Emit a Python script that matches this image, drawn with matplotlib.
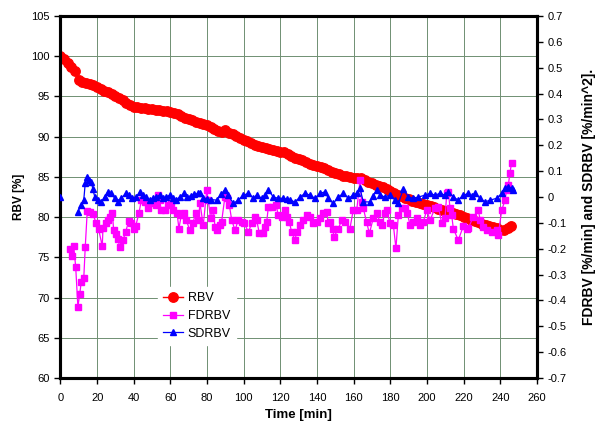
import matplotlib
matplotlib.use("Agg")
import matplotlib.pyplot as plt
import numpy as np

plt.rcParams['font.family'] = ['Liberation Sans', 'DejaVu Sans']

# ---- data ----
rbv_time = list(range(0, 248, 2))
rbv = [100.0, 99.6, 99.1, 98.7, 98.2, 97.0, 96.85, 96.7, 96.6, 96.45,
       96.2, 95.95, 95.65, 95.5, 95.35, 95.05, 94.75, 94.5, 94.2, 93.9,
       93.7, 93.65, 93.6, 93.55, 93.45, 93.4, 93.35, 93.3, 93.25, 93.2,
       93.1, 92.95, 92.8, 92.6, 92.35, 92.15, 92.05, 91.85, 91.65, 91.6,
       91.5, 91.2, 90.95, 90.7, 90.6, 90.8, 90.5, 90.3, 90.1, 89.85,
       89.6, 89.4, 89.2, 89.0, 88.85, 88.7, 88.6, 88.5, 88.4, 88.25,
       88.15, 88.05, 87.8, 87.6, 87.4, 87.2, 87.05, 86.85, 86.6, 86.45,
       86.35, 86.25, 86.1, 85.9, 85.65, 85.45, 85.3, 85.15, 85.05, 84.95,
       84.8, 84.9, 84.8, 84.6, 84.35, 84.2, 84.0, 83.9, 83.75, 83.45,
       83.2, 83.0, 82.8, 82.6, 82.35, 82.2, 82.05, 81.9, 81.8, 81.6,
       81.5, 81.35, 81.2, 81.05, 80.9, 80.75, 80.6, 80.5, 80.4, 80.3,
       80.05, 79.85, 79.7, 79.5, 79.35, 79.2, 79.0, 78.85, 78.75, 78.6,
       78.45, 78.4, 78.6, 78.9]

fd_time = [5.0, 6.3, 7.2, 8.3, 9.5, 10.5, 11.3, 12.7, 13.5, 14.6,
           16.3, 17.7, 19.5, 20.8, 22.8, 23.2, 24.7, 25.9, 27.2, 28.3,
           29.0, 30.1, 31.4, 32.3, 34.1, 35.6, 37.2, 38.6, 39.9, 41.0,
           42.8, 44.1, 45.9, 47.7, 48.7, 50.5, 51.9, 53.2, 54.1, 55.0,
           56.8, 58.6, 60.4, 61.4, 63.6, 64.6, 65.9, 67.4, 68.6, 70.5,
           72.3, 73.8, 75.2, 76.1, 77.9, 79.8, 80.6, 81.9, 83.4, 84.3,
           85.2, 87.0, 87.9, 89.7, 90.7, 92.1, 93.4, 95.2, 97.0, 98.9,
           100.1, 102.5, 104.3, 106.1, 107.0, 108.5, 110.3, 111.6, 112.5, 113.4,
           115.2, 117.6, 118.8, 120.7, 122.5, 123.4, 124.8, 126.1, 127.9, 128.9,
           130.7, 132.5, 134.6, 136.1, 137.9, 139.8, 141.6, 143.4, 145.2, 146.1,
           147.0, 148.5, 149.2, 151.6, 153.4, 155.2, 157.9, 159.7, 161.6, 163.4,
           164.3, 165.2, 167.0, 168.5, 170.6, 172.5, 174.3, 175.2, 177.0, 178.0,
           179.8, 181.6, 183.0, 184.3, 186.1, 187.9, 189.2, 190.7, 192.5, 194.3,
           196.1, 197.9, 199.8, 201.6, 204.3, 206.1, 208.0, 209.8, 210.7, 211.6,
           212.5, 213.4, 214.3, 217.0, 219.8, 221.6, 222.5, 225.2, 227.9, 229.0,
           230.7, 232.5, 235.2, 238.0, 238.8, 240.7, 242.5, 243.4, 244.3, 245.2,
           246.1]
fdrbv = [-0.20, -0.23, -0.19, -0.27, -0.425, -0.375, -0.33, -0.315, -0.195, -0.055,
         -0.057, -0.067, -0.10, -0.125, -0.19, -0.118, -0.102, -0.089, -0.077, -0.063,
         -0.128, -0.144, -0.164, -0.193, -0.167, -0.135, -0.092, -0.102, -0.122, -0.113,
         -0.063, -0.012, -0.019, -0.044, -0.025, -0.019, -0.031, 0.007, -0.012, -0.051,
         -0.051, -0.031, -0.025, -0.051, -0.063, -0.122, -0.070, -0.063, -0.089, -0.128,
         -0.10, -0.06, -0.089, -0.025, -0.109, 0.027, -0.012, -0.083, -0.051, -0.115,
         -0.128, -0.11, -0.096, 0.001, -0.005, -0.031, -0.089, -0.128, -0.089, -0.096,
         -0.100, -0.135, -0.102, -0.077, -0.089, -0.141, -0.141, -0.115, -0.096, -0.038,
         -0.038, -0.031, -0.070, -0.077, -0.051, -0.077, -0.096, -0.135, -0.167, -0.135,
         -0.109, -0.089, -0.070, -0.077, -0.102, -0.096, -0.083, -0.063, -0.057, -0.102,
         -0.096, -0.122, -0.154, -0.122, -0.089, -0.096, -0.122, -0.051, -0.051, 0.065,
         -0.019, -0.044, -0.096, -0.141, -0.083, -0.063, -0.096, -0.109, -0.063, -0.051,
         -0.102, -0.109, -0.199, -0.070, -0.044, -0.044, -0.063, -0.109, -0.096, -0.083,
         -0.109, -0.096, -0.051, -0.089, -0.044, -0.038, -0.102, -0.08, 0.014, 0.02,
         -0.044, -0.07, -0.122, -0.167, -0.112, -0.122, -0.12, -0.077, -0.051, -0.09,
         -0.115, -0.128, -0.135, -0.128, -0.147, -0.051, -0.012, 0.027, 0.046, 0.094,
         0.132]

# first SDRBV sample stands alone (gap before the next samples)
sd_time = [0.0, 5.0, 9.5, 11.3, 12.7, 13.5, 14.6, 15.5, 16.8, 17.7, 18.7,
           20.5, 22.3, 24.1, 25.9, 27.7, 29.6, 31.4, 33.2, 35.6, 37.4,
           39.2, 41.4, 43.5, 45.0, 46.8, 48.7, 50.5, 52.3, 54.1, 55.9,
           57.7, 59.6, 61.4, 63.2, 65.0, 67.4, 69.2, 71.0, 73.0, 75.2,
           76.1, 78.0, 80.0, 82.0, 85.2, 87.5, 89.7, 91.5, 94.3, 97.0,
           99.7, 102.5, 105.2, 107.0, 109.8, 111.6, 113.4, 116.1, 118.8, 121.6,
           123.4, 125.2, 127.9, 130.7, 133.4, 136.1, 138.8, 141.6, 144.3, 146.1,
           148.8, 151.6, 154.3, 157.0, 159.7, 161.6, 163.4, 165.2, 168.8, 170.6,
           172.5, 174.3, 177.0, 179.8, 182.5, 184.3, 187.0, 189.8, 192.5, 195.2,
           198.9, 201.6, 204.3, 207.0, 209.8, 211.6, 214.3, 217.0, 219.8, 222.5,
           224.3, 226.1, 228.9, 231.6, 234.4, 238.0, 240.7, 242.5, 244.3, 246.1,
           247.0]
sdrbv = [0.0, np.nan, -0.057, -0.031, -0.012, 0.053, 0.078, 0.065, 0.059, 0.029, 0.001,
         -0.012, -0.019, 0.001, 0.02, 0.014, -0.005, -0.019, -0.005, 0.014, 0.007,
         -0.005, 0.001, 0.02, 0.007, 0.0, -0.012, -0.005, 0.0, 0.007, -0.005,
         0.0, 0.007, -0.005, -0.012, 0.0, 0.014, 0.0, 0.005, 0.01, 0.014,
         0.014, -0.005, -0.008, -0.01, -0.012, 0.01, 0.027, 0.007, -0.025, -0.012,
         0.007, 0.014, -0.005, 0.007, -0.005, 0.007, 0.027, 0.0, -0.005, -0.005,
         -0.008, -0.012, -0.019, 0.0, 0.014, 0.007, -0.005, 0.014, 0.02, -0.005,
         -0.025, 0.0, 0.014, -0.005, 0.007, 0.015, 0.033, -0.019, -0.019, 0.005,
         0.027, 0.007, 0.0, 0.007, -0.012, -0.025, 0.03, 0.0, -0.005, 0.0,
         0.007, 0.014, 0.007, 0.014, 0.007, 0.02, 0.0, -0.012, 0.007, 0.014,
         0.004, 0.014, -0.005, -0.019, -0.012, -0.005, 0.014, 0.033, 0.04, 0.033,
         0.027]

x_ticks = list(range(0, 261, 20))
left_ticks = list(range(60, 106, 5))
right_ticks = [round(-0.7 + 0.1 * i, 1) for i in range(15)]

# ---- figure ----
fig = plt.figure(figsize=(6.06, 4.29), dpi=100)
ax = fig.add_axes([0.0998, 0.1189, 0.7865, 0.8438])
ax2 = ax.twinx()

ax.plot(rbv_time, rbv, color='#FF0000', marker='o', markersize=6.8,
        linewidth=1, label='RBV', zorder=3)
ax2.plot(fd_time, fdrbv, color='#FF00FF', marker='s', markersize=4.0,
         linewidth=0.9, label='FDRBV', zorder=3)
ax2.plot(sd_time, sdrbv, color='#0000FF', marker='^', markersize=4.8,
         linewidth=0.9, label='SDRBV', zorder=4)

ax.set_xlim(0, 260)
ax.set_ylim(60, 105)
ax2.set_ylim(-0.7, 0.7)
ax.set_xticks(x_ticks)
ax.set_yticks(left_ticks)
ax2.set_yticks(right_ticks)
ax2.set_yticklabels([('%g' % v) for v in right_ticks])

ax.grid(True, color='#6f8f72', linewidth=0.7)
ax.set_axisbelow(True)

for a in (ax, ax2):
    for s in a.spines.values():
        s.set_linewidth(2.2)
        s.set_color('black')
    a.tick_params(direction='out', length=4, width=1, labelsize=8, colors='black')
ax.tick_params(axis='x', pad=7)

ax.set_xlabel('Time [min]', fontsize=9.5, fontweight='bold', labelpad=4)
ax.set_ylabel('RBV [%]', fontsize=8.5, fontweight='bold', labelpad=5)
ax2.set_ylabel('FDRBV [%/min] and SDRBV [%/min^2].', fontsize=10,
               fontweight='bold', rotation=90, labelpad=11)

h1, l1 = ax.get_legend_handles_labels()
h2, l2 = ax2.get_legend_handles_labels()
leg = ax2.legend(h1 + h2, l1 + l2, loc='upper left', bbox_to_anchor=(0.205, 0.25),
                 frameon=True, fancybox=False, edgecolor='white', facecolor='white',
                 framealpha=1, fontsize=9, handlelength=1.6, handletextpad=0.35,
                 labelspacing=0.45, borderpad=0.4, borderaxespad=0)
leg.set_zorder(10)

fig.savefig('out.png', dpi=100)
